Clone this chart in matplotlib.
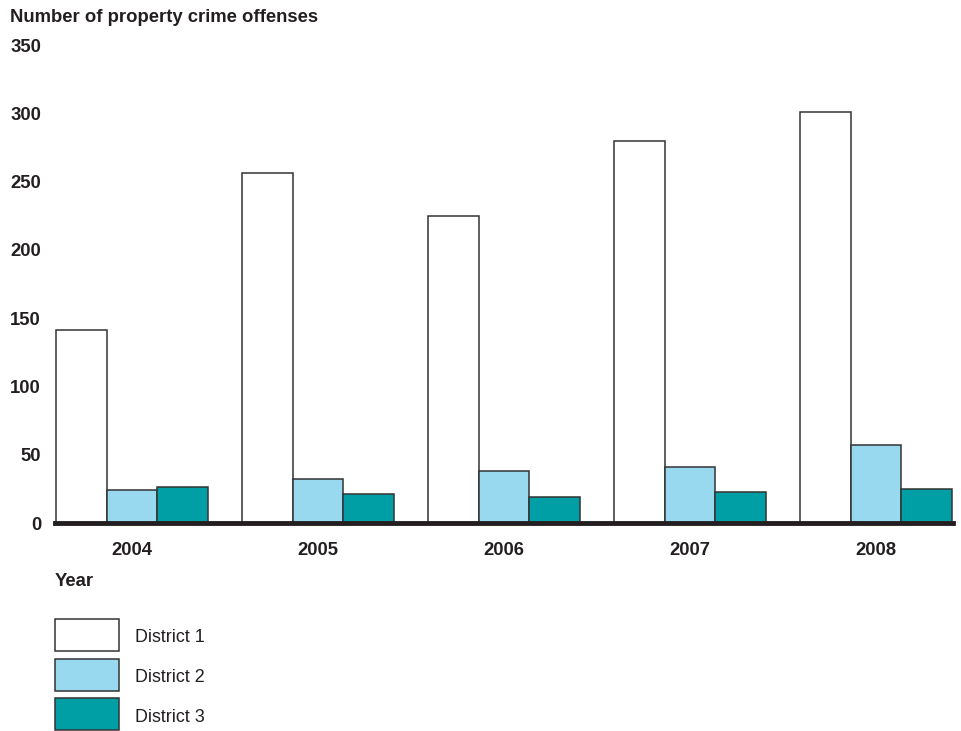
import matplotlib
matplotlib.use("Agg")
import matplotlib.pyplot as plt
from matplotlib.patches import Rectangle
import numpy as np

plt.rcParams['font.family'] = ['Liberation Sans', 'DejaVu Sans']

years = ["2004", "2005", "2006", "2007", "2008"]
district1 = [141, 256, 225, 280, 301]
district2 = [24, 32, 38, 41, 57]
district3 = [26, 21, 19, 23, 25]
series_names = ["District 1", "District 2", "District 3"]
colors = ["#FFFFFF", "#99D9F0", "#009FA5"]
yticks = [0, 50, 100, 150, 200, 250, 300, 350]

fig = plt.figure(figsize=(9.62, 7.31), dpi=100)
ax = fig.add_axes([55/962, 1-523/731, (953-55)/962, (523-45)/731])

x = np.arange(len(years))
w = 0.2715
edge = "#333333"
for i, (vals, c) in enumerate(zip([district1, district2, district3], colors)):
    ax.bar(x + (i-1)*w, vals, width=w, color=c, edgecolor=edge, linewidth=1.1, zorder=2)

ax.set_xlim(-0.414, 4.414)
ax.set_ylim(0, 350)
ax.set_yticks(yticks)
ax.set_yticklabels([str(t) for t in yticks], fontsize=13.3, fontweight='bold', color='#231F20')
ax.set_xticks(x)
ax.set_xticklabels(years, fontsize=13.3, fontweight='bold', color='#231F20')
ax.tick_params(axis='y', length=0, pad=10)
ax.tick_params(axis='x', length=0, pad=14)
for s in ['top', 'right', 'left']:
    ax.spines[s].set_visible(False)
ax.spines['bottom'].set_linewidth(3.5)
ax.spines['bottom'].set_color('#231F20')
ax.spines['bottom'].set_zorder(3)

fig.text(10/962, 1-17/731, "Number of property crime offenses", fontsize=13.3,
         fontweight='bold', color='#231F20', ha='left', va='center')
fig.text(55/962, 1-581/731, "Year", fontsize=13.3, fontweight='bold',
         color='#231F20', ha='left', va='center')

box_tops = [619, 659, 698]
for name, c, top in zip(series_names, colors, box_tops):
    fig.patches.append(Rectangle((55/962, 1-(top+32)/731), 64/962, 32/731,
                                 transform=fig.transFigure, facecolor=c,
                                 edgecolor=edge, linewidth=1.1))
    fig.text(135/962, 1-(top+19)/731, name, fontsize=12.9, color='#231F20',
             ha='left', va='center')

fig.savefig("out.png", dpi=100)
